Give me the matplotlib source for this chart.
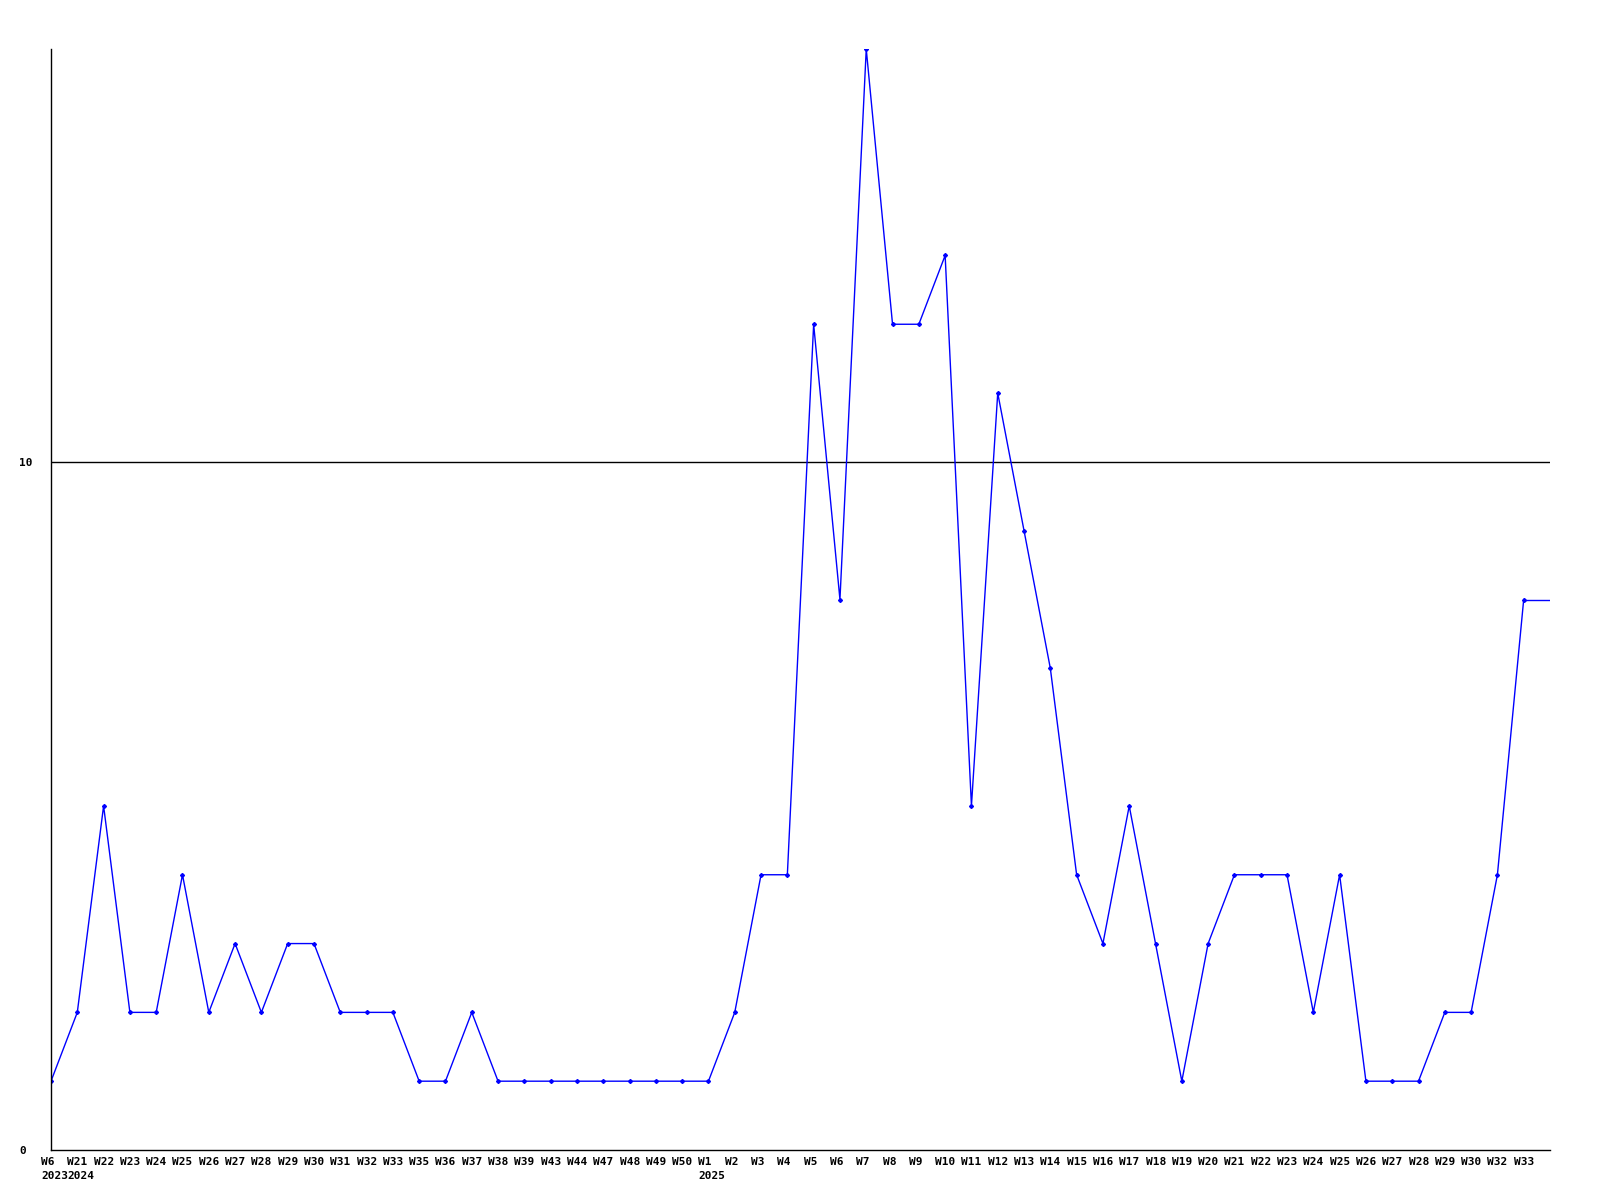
import numpy as np
import matplotlib
matplotlib.use('Agg')
from matplotlib import pyplot as plt
from matplotlib.transforms import ScaledTranslation

# weekly counts
weeks = ['W6', 'W21', 'W22', 'W23', 'W24', 'W25', 'W26', 'W27', 'W28', 'W29',
         'W30', 'W31', 'W32', 'W33', 'W35', 'W36', 'W37', 'W38', 'W39', 'W43',
         'W44', 'W47', 'W48', 'W49', 'W50', 'W1', 'W2', 'W3', 'W4', 'W5',
         'W6', 'W7', 'W8', 'W9', 'W10', 'W11', 'W12', 'W13', 'W14', 'W15',
         'W16', 'W17', 'W18', 'W19', 'W20', 'W21', 'W22', 'W23', 'W24', 'W25',
         'W26', 'W27', 'W28', 'W29', 'W30', 'W32', 'W33']
# year shown under the first week of each year
years = {0: '2023', 1: '2024', 25: '2025'}
counts = [1, 2, 5, 2, 2, 4, 2, 3, 2, 3,
          3, 2, 2, 2, 1, 1, 2, 1, 1, 1,
          1, 1, 1, 1, 1, 1, 2, 4, 4, 12,
          8, 16, 12, 12, 13, 5, 11, 9, 7, 4,
          3, 5, 3, 1, 3, 4, 4, 4, 2, 4,
          1, 1, 1, 2, 2, 4, 8]
yticks = [0, 10]

fig = plt.figure(figsize=(16, 12), dpi=100)
ax = fig.add_axes([51/1600, 1 - 1150/1200, 1499/1600, 1101/1200])

x = np.arange(len(counts))
n = len(counts)
ax.axhline(10, color='black', lw=1)
ax.plot(x, counts, color='blue', lw=1, marker='D', ms=2)
# line keeps going to the right edge at the last value
ax.plot([x[-1], n], [counts[-1], counts[-1]], color='blue', lw=1)

ax.set_xlim(0, n)
ax.set_ylim(0, 16)

for s in ['top', 'right']:
    ax.spines[s].set_visible(False)
for s in ['left', 'bottom']:
    ax.spines[s].set_linewidth(1)

font = dict(family='DejaVu Sans Mono', weight='bold', size=8)
labels = [w + ('\n' + years[i] if i in years else '') for i, w in enumerate(weeks)]
ax.set_xticks(x)
ax.set_xticklabels(labels, ha='left', va='top', linespacing=1.45, **font)
ax.tick_params(axis='x', length=0, pad=5)
off = ScaledTranslation(-10/100, 0, fig.dpi_scale_trans)
for lab in ax.get_xticklabels():
    lab.set_transform(lab.get_transform() + off)

ax.set_yticks(yticks)
ax.set_yticklabels([str(v) for v in yticks], ha='left', **font)
ax.tick_params(axis='y', length=0, pad=23)

fig.savefig('out.png', dpi=100)
